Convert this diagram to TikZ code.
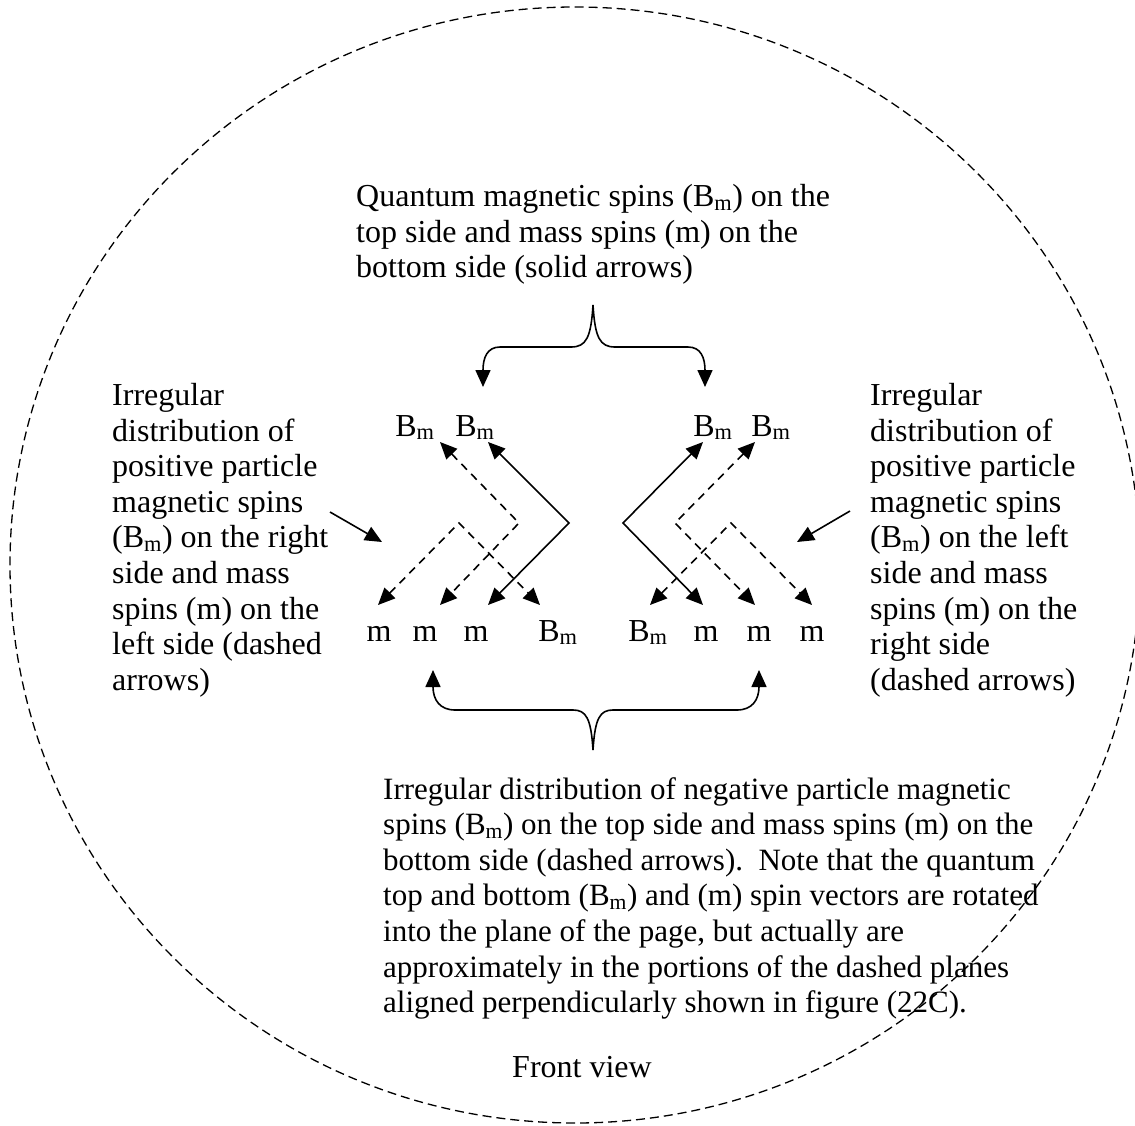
\documentclass[tikz,border=0pt]{standalone}
\usepackage{fontspec}
\setmainfont{Liberation Serif}
\usetikzlibrary{arrows.meta}
\newcommand\Bsub{B\textsubscript{m}}
\begin{document}
\begin{tikzpicture}[x=1pt,y=-1pt,
  txt/.style={inner sep=0pt, font=\fontsize{32}{35.6}\selectfont},
  block/.style={txt, align=left, anchor=north west},
  lbl/.style={txt, anchor=base},
  spin/.style={line width=1.6pt, {Triangle[length=17pt,width=15pt]}-{Triangle[length=17pt,width=15pt]}},
  dspin/.style={spin, dash pattern=on 8pt off 6pt},
  pointer/.style={line width=1.6pt, -{Triangle[length=17pt,width=15pt]}},
]
\useasboundingbox (0,0) rectangle (1135,1126);
\clip (0,0) rectangle (1135,1126);

% outer dashed outline of the view
\draw[line width=1.3pt, dash pattern=on 9pt off 5pt] (575,565) ellipse [x radius=565, y radius=558];

% text blocks
\node[block] (top) at (356,184) {Quantum magnetic spins (\Bsub) on the\\top side and mass spins (m) on the\\bottom side (solid arrows)};
\node[block] (left) at (112,383) {Irregular\\distribution of\\positive particle\\magnetic spins\\(\Bsub) on the right\\side and mass\\spins (m) on the\\left side (dashed\\arrows)};
\node[block] (right) at (870,383) {Irregular\\distribution of\\positive particle\\magnetic spins\\(\Bsub) on the left\\side and mass\\spins (m) on the\\right side\\(dashed arrows)};
\node[block, font=\fontsize{31}{35.6}\selectfont] (bottom) at (383,777) {Irregular distribution of negative particle magnetic\\spins (\Bsub) on the top side and mass spins (m) on the\\bottom side (dashed arrows).\ \ Note that the quantum\\top and bottom (\Bsub) and (m) spin vectors are rotated\\into the plane of the page, but actually are\\approximately in the portions of the dashed planes\\aligned perpendicularly shown in figure (22C).};
\node[lbl] (front) at (582,1077) {Front view};

% spin labels, top row
\node[lbl] (t1) at (415,436) {\Bsub};
\node[lbl] (t2) at (475,436) {\Bsub};
\node[lbl] (t3) at (713,436) {\Bsub};
\node[lbl] (t4) at (771,436) {\Bsub};
% spin labels, bottom row
\node[lbl] (b1) at (379,641) {m};
\node[lbl] (b2) at (425,641) {m};
\node[lbl] (b3) at (476,641) {m};
\node[lbl] (b4) at (558,641) {\Bsub};
\node[lbl] (b5) at (648,641) {\Bsub};
\node[lbl] (b6) at (706,641) {m};
\node[lbl] (b7) at (759,641) {m};
\node[lbl] (b8) at (812,641) {m};

% spin vector bends
\coordinate (la) at (459,523);
\coordinate (lb) at (519,523);
\coordinate (lc) at (569,523);
\coordinate (ra) at (731,523);
\coordinate (rb) at (675,523);
\coordinate (rc) at (623,523);

\draw[dspin] (378,605) -- (la) -- (540,605);
\draw[dspin] (440,442) -- (lb) -- (440,605);
\draw[spin]  (488,442) -- (lc) -- (488,605);
\draw[spin]  (703,442) -- (rc) -- (703,605);
\draw[dspin] (755,442) -- (rb) -- (755,605);
\draw[dspin] (650,605) -- (ra) -- (812,605);

% pointers from the side texts
\coordinate (lp0) at (330,512);
\coordinate (lp1) at (382,542);
\coordinate (rp0) at (850,511);
\coordinate (rp1) at (797,542);
\draw[pointer] (lp0) -- (lp1);
\draw[pointer] (rp0) -- (rp1);

% brace below the top text
\coordinate (tc) at (593,305);
\coordinate (tl) at (483,387);
\coordinate (tr) at (705,387);
\draw[pointer] (tc) .. controls (591,338) and (586,347) .. (571,347) -- (500,347)
  .. controls (487,347) and (483,358) .. (tl);
\draw[pointer] (tc) .. controls (595,338) and (600,347) .. (615,347) -- (688,347)
  .. controls (701,347) and (705,358) .. (tr);

% brace above the bottom text
\coordinate (bc) at (593,750);
\coordinate (bl) at (433,670);
\coordinate (br) at (759,670);
\draw[pointer] (bc) .. controls (591,718) and (586,710) .. (573,710) -- (455,710)
  .. controls (440,710) and (433,700) .. (bl);
\draw[pointer] (bc) .. controls (595,718) and (600,710) .. (613,710) -- (737,710)
  .. controls (752,710) and (759,700) .. (br);
\end{tikzpicture}
\end{document}
